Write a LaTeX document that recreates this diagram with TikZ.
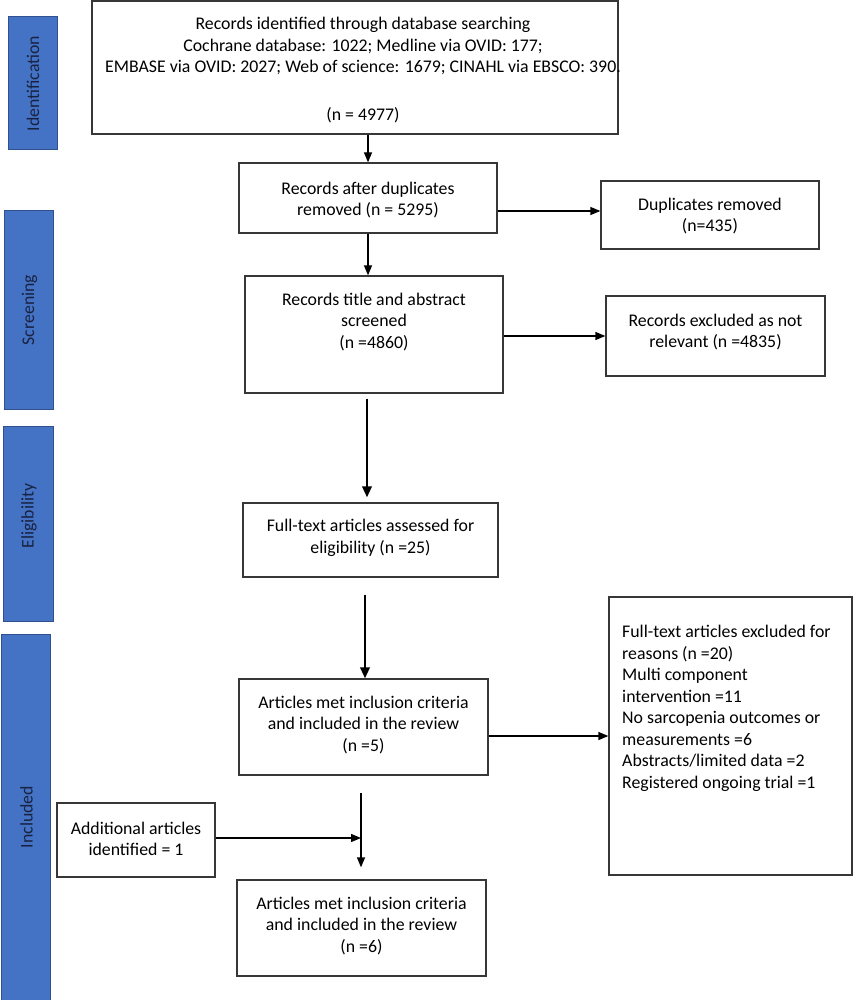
\documentclass[tikz,border=0pt]{standalone}
\usepackage{fontspec}
\setmainfont{Carlito}
\usetikzlibrary{arrows.meta}
\definecolor{barblue}{RGB}{68,114,196}
\definecolor{barline}{RGB}{47,82,143}
\definecolor{bartext}{RGB}{25,35,65}
\definecolor{boxline}{RGB}{55,55,55}
\begin{document}
\begin{tikzpicture}[x=1pt,y=-1pt,
  box/.style={draw=boxline, line width=1.3pt, rectangle, inner sep=0pt, fill=white},
  txt/.style={align=center, inner sep=0pt, font=\fontsize{17.8}{21.5}\selectfont},
  bar/.style={draw=barline, line width=1pt, fill=barblue, inner sep=0pt},
  bartxt/.style={rotate=90, text=bartext, inner sep=0pt, font=\fontsize{17.8}{21.5}\selectfont},
  thinarrow/.style={draw=black, line width=1.3pt, -{Triangle[length=10pt,width=8pt]}},
  thickarrow/.style={draw=black, line width=2.2pt, -{Triangle[length=11pt,width=9.5pt]}}
]
\useasboundingbox (0,0) rectangle (853,1000);

% phase bars
\node[bar, minimum width=49pt, minimum height=133pt] (idb) at (32.5,83.5) {};
\node[bartxt] (idt) at (33,83.5) {Identification};
\node[bar, minimum width=49pt, minimum height=198pt] (scb) at (28.5,310) {};
\node[bartxt] (sct) at (29.5,310) {Screening};
\node[bar, minimum width=50pt, minimum height=195pt] (elb) at (28,523.5) {};
\node[bartxt] (elt) at (29,516) {Eligibility};
\node[bar, minimum width=49pt, minimum height=370pt] (inb) at (25.5,819) {};
\node[bartxt] (int) at (26.5,817) {Included};

% boxes
\node[box, minimum width=526pt, minimum height=133pt] (t) at (355,67.5) {};
\node[txt] (tt) at (363,70) {Records identified through database searching\\Cochrane database: 1022; Medline via OVID: 177;\\EMBASE via OVID: 2027; Web of science: 1679; CINAHL via EBSCO: 390.\\[26pt](n = 4977)};

\node[box, minimum width=258pt, minimum height=70pt] (b2) at (368,198) {};
\node[txt] (b2t) at (368,200) {Records after duplicates\\removed (n = 5295)};

\node[box, minimum width=218pt, minimum height=68pt] (dup) at (710,215) {};
\node[txt] (dupt) at (710,216) {Duplicates removed\\(n=435)};

\node[box, minimum width=258pt, minimum height=117pt] (b3) at (374,334.5) {};
\node[txt] (b3t) at (374,322) {Records title and abstract\\screened\\(n =4860)};

\node[box, minimum width=219pt, minimum height=80pt] (excl) at (715.5,336) {};
\node[txt] (exclt) at (715.5,332) {Records excluded as not\\relevant (n =4835)};

\node[box, minimum width=255pt, minimum height=74pt] (b4) at (370.5,540) {};
\node[txt] (b4t) at (370.5,538) {Full-text articles assessed for\\eligibility (n =25)};

\node[box, minimum width=249pt, minimum height=96pt] (b5) at (363.5,727) {};
\node[txt] (b5t) at (363.5,725) {Articles met inclusion criteria\\and included in the review\\(n =5)};

\node[box, minimum width=243pt, minimum height=278pt] (fte) at (730.5,736) {};
\node[txt, align=left, anchor=north west] (ftet) at (622,625) {Full-text articles excluded for\\reasons (n =20)\\Multi component\\intervention =11\\No sarcopenia outcomes or\\measurements =6\\Abstracts/limited data =2\\Registered ongoing trial =1};

\node[box, minimum width=158pt, minimum height=74pt] (add) at (136,840) {};
\node[txt] (addt) at (136,839) {Additional articles\\identified = 1};

\node[box, minimum width=249pt, minimum height=96pt] (b6) at (361.5,928) {};
\node[txt] (b6t) at (361.5,926) {Articles met inclusion criteria\\and included in the review\\(n =6)};

\coordinate (j) at (361,838);
\coordinate (v) at (361,793);

% connectors
\draw[thinarrow] (t.south -| b2.north) -- (b2.north);
\draw[thinarrow] ([yshift=-13pt]b2.east) -- ([yshift=-13pt]b2.east -| dup.west);
\draw[thinarrow] (b2.south) -- (b2.south |- b3.north);
\draw[thinarrow] (b3.east |- excl.west) -- (excl.west);
\draw[thickarrow, shorten <=5pt, shorten >=5pt] ([xshift=-7pt]b3.south) -- ([xshift=-3.5pt]b4.north);
\draw[thickarrow, shorten <=17pt] ([xshift=-5.5pt]b4.south) -- ([xshift=1.5pt]b5.north);
\draw[thinarrow] (b5.east |- fte.west) -- (fte.west);
\draw[thinarrow] (add.east |- j) -- (j);
\draw[thinarrow, shorten >=12pt] (v) -- (v |- b6.north);
\end{tikzpicture}
\end{document}
